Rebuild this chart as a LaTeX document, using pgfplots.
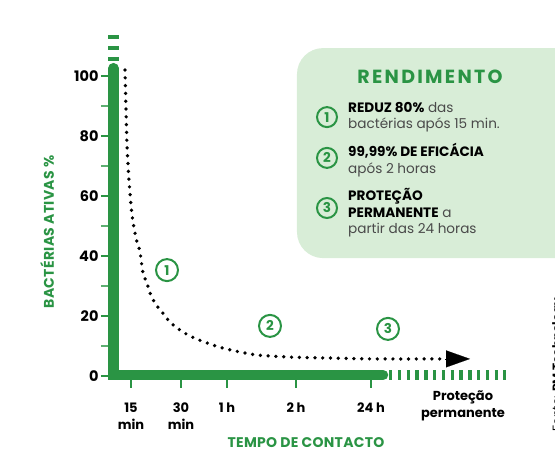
\documentclass[border=0pt]{standalone}
\usepackage{fontspec}
\setmainfont{Poppins}
\usepackage{pgfplots}
\pgfplotsset{compat=1.18}
\usetikzlibrary{arrows.meta}
\definecolor{gbar}{HTML}{2A9444}
\definecolor{gbox}{HTML}{D8EDD7}
\definecolor{gtxt}{HTML}{4A4A4A}
\tikzset{num/.style={circle, draw=gbar, line width=2pt, minimum size=20pt, inner sep=0pt, text=gbar,
        font=\bfseries\fontsize{13.5}{13.5}\selectfont}}

\begin{document}
\begin{tikzpicture}
\begin{axis}[
    scale only axis, width=392pt, height=300pt,
    xmin=113, xmax=505, ymin=0, ymax=100,
    clip=false,
    axis line style={draw=none},
    xtick={131,181,227,296,371},
    xticklabels={15\\min, 30\\min, 1 h, 2 h, 24 h},
    extra x ticks={463},
    extra x tick labels={Proteção\\permanente},
    extra x tick style={major tick length=0pt},
    xticklabel style={align=center, font=\bfseries\fontsize{13}{17}\selectfont, text=black, yshift=-11pt},
    ytick={0,20,40,60,80,100},
    yticklabels={0,20,40,60,80,100},
    yticklabel style={font=\bfseries\fontsize{14.5}{14.5}\selectfont, text=black, xshift=1pt},
    minor ytick={10,30,50,70,90},
    tick align=outside, xtick pos=bottom, ytick pos=left,
    major tick length=12pt, minor tick length=12pt,
    every major tick/.append style={gbar, line width=2.6pt},
    every minor tick/.append style={gbar!75, line width=1.3pt},
  ]

  % thick axes drawn as data
  \addplot[gbar, line width=10.5pt, line cap=round, line join=miter]
    coordinates {(113.5,102.6) (113.5,0.33) (383,0.33)};
  \addplot[gbar, line width=10pt, dash pattern=on 3.3pt off 5.5pt]
    coordinates {(389,0.33) (506,0.33)};
  \addplot[gbar, line width=10.5pt, dash pattern=on 4pt off 7pt]
    coordinates {(113.5,113.67) (113.5,105)};

  % decay curve
  \addplot[black, line width=3.7pt, line cap=round, dash pattern=on 0pt off 7.8pt, smooth]
    coordinates {
      (125,102) (126,88.7) (127,77) (129,65.3) (132,53.7) (136,46)
      (140,41.3) (143,34.3) (147,31) (150,27.7) (155,24.3) (162,21.3)
      (170,18) (180,15.3) (192,13) (207,11) (223,9.3) (240,8)
      (257,7) (290,6.3) (327,6) (373,5.7) (443,5.7)
    };
  \addplot[black, line width=0.1pt, -{Triangle[length=24pt,width=17pt]}]
    coordinates {(445,5.7) (470,5.7)};

  % circled markers
  \node[num, minimum size=22pt] at (axis cs:167,35.3) {1};
  \node[num, minimum size=22pt] at (axis cs:270,16.7) {2};
  \node[num, minimum size=22pt] at (axis cs:388,15.7) {3};

  % axis titles
  \node[text=gbar, font=\bfseries\fontsize{14}{14}\selectfont\addfontfeatures{LetterSpace=2}] at (axis cs:306,-22.3) {TEMPO DE CONTACTO};
  \node[text=gbar, rotate=90, font=\bfseries\fontsize{14}{14}\selectfont\addfontfeatures{LetterSpace=2}] at (axis cs:47,48) {BACTÉRIAS ATIVAS \%};

  % info box
  \fill[gbox, rounded corners=26pt] (axis cs:297,39.3) rectangle (axis cs:600,109.3);
  \node[text=gbar, font=\bfseries\fontsize{19}{19}\selectfont\addfontfeatures{LetterSpace=12}] at (axis cs:430,99.7) {RENDIMENTO};
  \node[num] at (axis cs:327,86.3) {1};
  \node[num] at (axis cs:327,72.7) {2};
  \node[num] at (axis cs:327,56) {3};
  \node[anchor=north west, inner sep=0pt, align=left, text=gtxt, font=\fontsize{13.6}{16.5}\selectfont]
    at (axis cs:348,91.3) {\textcolor{black}{\bfseries REDUZ 80\%} das\\bactérias após 15 min.};
  \node[anchor=north west, inner sep=0pt, align=left, text=gtxt, font=\fontsize{13.6}{16.5}\selectfont]
    at (axis cs:348,77.6) {\textcolor{black}{\bfseries 99,99\% DE EFICÁCIA}\\após 2 horas};
  \node[anchor=north west, inner sep=0pt, align=left, text=gtxt, font=\fontsize{13.6}{16.5}\selectfont]
    at (axis cs:348,62.6) {\textcolor{black}{\bfseries PROTEÇÃO}\\\textcolor{black}{\bfseries PERMANENTE} a\\partir das 24 horas};

  % source note, cut at the right edge as in the original
  \node[rotate=90, anchor=base, text=black, font=\fontsize{12}{12}\selectfont] at (axis cs:561,3.7) {Fonte: \textbf{PM Technology}};

  \coordinate (bl) at (axis cs:0,-25.333);
  \coordinate (tr) at (axis cs:555,125.333);
\end{axis}
\pgfresetboundingbox
\useasboundingbox (bl) rectangle (tr);
\end{tikzpicture}
\end{document}
